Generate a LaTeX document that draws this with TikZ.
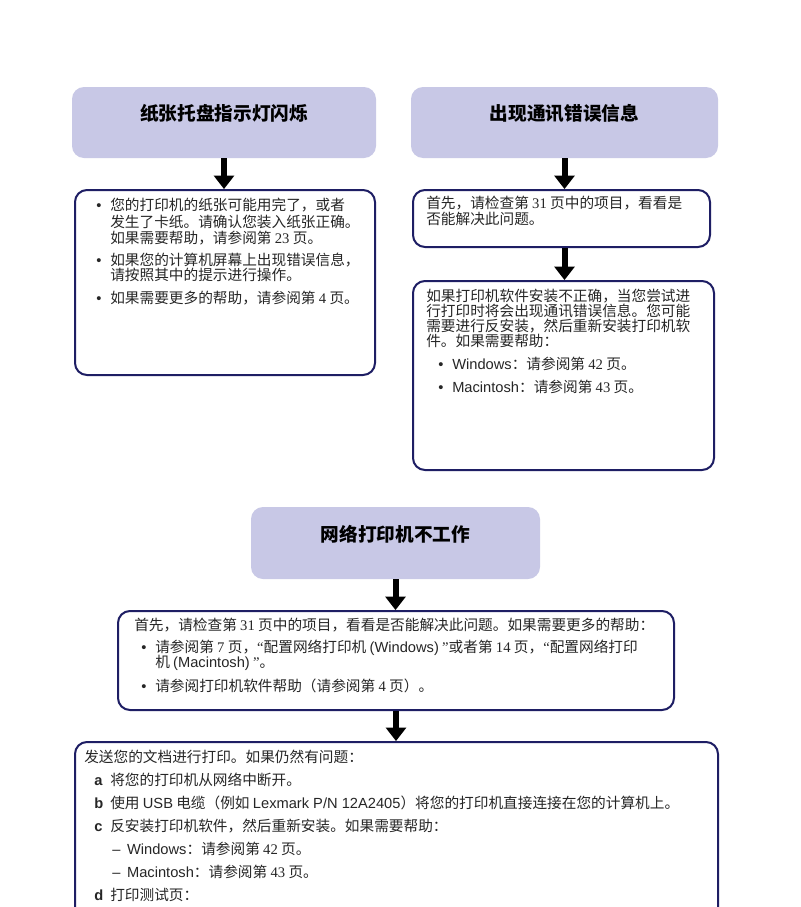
\documentclass[tikz,border=0pt]{standalone}
\usepackage{fontspec}
\setmainfont{Noto Sans CJK SC}
\newfontfamily\hvfont{Liberation Sans}
\newfontfamily\tmfont{Liberation Serif}
\newcommand\pnum[1]{{\tmfont #1}}
\newcommand\latn[1]{{\hvfont #1}}
\newcommand\dotitem{\makebox[10.5pt][l]{\hvfont •}}
\newcommand\nodotitem{\makebox[10.5pt][l]{}}
\newcommand\stepitem[1]{\makebox[12pt][l]{\hvfont\bfseries #1}}
\usetikzlibrary{arrows.meta}

\definecolor{titlefill}{HTML}{C8C8E6}
\definecolor{boxnavy}{HTML}{1E1E64}

\tikzset{
  titlebox/.style={fill=titlefill,rounded corners=9pt,inner sep=0pt},
  stepbox/.style={draw=boxnavy,line width=1.5pt,fill=white,rounded corners=9pt,inner sep=0pt},
  bigarrow/.style={line width=4.5pt,-{Triangle[width=15.5pt,length=10pt,line width=0pt]}},
  titletext/.style={font=\bfseries\fontsize{14}{16}\selectfont},
  txtline/.style={anchor=west,inner sep=0pt,text=black!85,font=\fontsize{11}{13}\selectfont},
}

\begin{document}
\begin{tikzpicture}[x=0.75pt,y=-0.75pt]
  \useasboundingbox[fill=white] (0,0) rectangle (800,907);
  \clip (0,0) rectangle (800,907);

  % title boxes
  \node[titlebox,minimum width=228pt,minimum height=53.25pt] (paper) at (224,122.5) {};
  \node[titlebox,minimum width=230.25pt,minimum height=53.25pt] (comm) at (564.5,122.5) {};
  \node[titlebox,minimum width=216.75pt,minimum height=54pt] (net) at (395.5,543) {};
  \node[titletext] (papertxt) at (224,113) {纸张托盘指示灯闪烁};
  \node[titletext] (commtxt) at (564.5,113) {出现通讯错误信息};
  \node[titletext] (nettxt) at (395.5,534) {网络打印机不工作};

  % step boxes
  \node[stepbox,minimum width=225pt,minimum height=138.75pt] (paperbox) at (225,282.5) {};
  \node[stepbox,minimum width=222.75pt,minimum height=42.75pt] (commone) at (561.5,218.5) {};
  \node[stepbox,minimum width=225.75pt,minimum height=141.75pt] (commtwo) at (563.5,375.5) {};
  \node[stepbox,minimum width=417pt,minimum height=74.25pt] (netone) at (396,660.5) {};
  \node[stepbox,minimum width=482.25pt,minimum height=163.5pt] (nettwo) at (396.5,851) {};

  \draw[bigarrow] (paper.south) -- (paper.south |- paperbox.north);
  \draw[bigarrow] (comm.south) -- (comm.south |- commone.north);
  \draw[bigarrow] (comm.south |- commone.south) -- (comm.south |- commtwo.north);
  \draw[bigarrow] (net.south) -- (net.south |- netone.north);
  \draw[bigarrow] (netone.south) -- (netone.south |- nettwo.north);

  % paper tray box
  \foreach \y/\t [count=\i] in {205/\dotitem 您的打印机的纸张可能用完了，或者,
      222/\nodotitem 发生了卡纸。请确认您装入纸张正确。,
      238/{\nodotitem 如果需要帮助，请参阅第 \pnum{23} 页。},
      260/\dotitem 如果您的计算机屏幕上出现错误信息，,
      275/\nodotitem 请按照其中的提示进行操作。,
      298/{\dotitem 如果需要更多的帮助，请参阅第 \pnum{4} 页。}}
    \node[txtline] (paperl\i) at (96,\y) {\t};

  % communication boxes
  \node[txtline] (commonel1) at (426,203) {首先，请检查第 \pnum{31} 页中的项目，看看是};
  \node[txtline] (commonel2) at (426,219) {否能解决此问题。};
  \foreach \y/\t [count=\i] in {296/如果打印机软件安装不正确，当您尝试进,
      311/行打印时将会出现通讯错误信息。您可能,
      326/需要进行反安装，然后重新安装打印机软,
      341/件。如果需要帮助：}
    \node[txtline] (commtwol\i) at (426,\y) {\t};
  \node[txtline] (commwin) at (438,364) {\dotitem\latn{Windows}：请参阅第 \pnum{42} 页。};
  \node[txtline] (commmac) at (438,387) {\dotitem\latn{Macintosh}：请参阅第 \pnum{43} 页。};

  % network boxes
  \node[txtline] (netonel1) at (134,625) {首先，请检查第 \pnum{31} 页中的项目，看看是否能解决此问题。如果需要更多的帮助：};
  \node[txtline] (netonel2) at (141,648) {\dotitem 请参阅第 \pnum{7} 页，{\tmfont“}配置网络打印机 \latn{(Windows)} {\tmfont ”}或者第 \pnum{14} 页，{\tmfont“}配置网络打印};
  \node[txtline] (netonel3) at (141,663) {\nodotitem 机 \latn{(Macintosh)} {\tmfont ”}。};
  \node[txtline] (netonel4) at (141,686) {\dotitem 请参阅打印机软件帮助（请参阅第 \pnum{4} 页）。};

  \node[txtline] (nettwol0) at (84,757) {发送您的文档进行打印。如果仍然有问题：};
  \foreach \y/\s/\t in {780/a/将您的打印机从网络中断开。,
      803/b/{使用 \latn{USB} 电缆（例如 \latn{Lexmark P/N 12A2405}）将您的打印机直接连接在您的计算机上。},
      826/c/反安装打印机软件，然后重新安装。如果需要帮助：,
      895/d/打印测试页：}
    \node[txtline] (netstep\s) at (94,\y) {\stepitem{\s}\t};
  \node[txtline] (netwin) at (112,849) {\latn{–}\hspace{5pt}\latn{Windows}：请参阅第 \pnum{42} 页。};
  \node[txtline] (netmac) at (112,872) {\latn{–}\hspace{5pt}\latn{Macintosh}：请参阅第 \pnum{43} 页。};
\end{tikzpicture}
\end{document}
